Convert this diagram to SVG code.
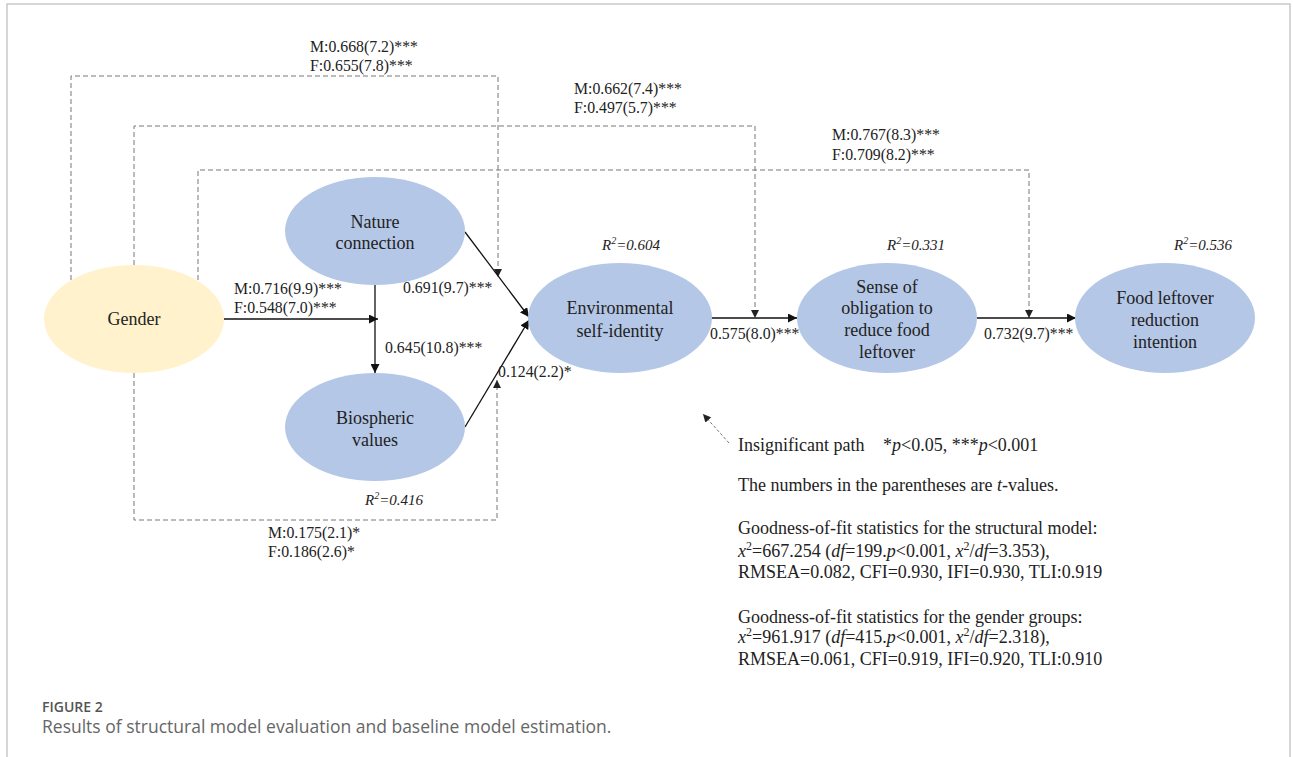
<svg xmlns="http://www.w3.org/2000/svg" width="1293" height="757" viewBox="0 0 1293 757">
<defs>
<style>
.node{fill:#B4C7E7;}
.gnode{fill:#FFF2CC;}
.nt{font-family:"Liberation Serif","Times New Roman",serif;font-size:18px;fill:#222;text-anchor:middle;}
.lb{font-family:"Liberation Serif","Times New Roman",serif;font-size:15.8px;fill:#222;}
.r2{font-family:"Liberation Serif","Times New Roman",serif;font-size:15px;font-style:italic;fill:#222;}
.lg{font-family:"Liberation Serif","Times New Roman",serif;font-size:18px;fill:#222;}
.solid{stroke:#111;stroke-width:1.3;fill:none;marker-end:url(#ah);}
.dash{stroke:#777;stroke-width:1;stroke-dasharray:5 3;fill:none;marker-end:url(#ahd);}
.cap1{font-family:"Open Sans","Noto Sans",sans-serif;font-size:14px;font-weight:600;fill:#555;}
.cap2{font-family:"Open Sans","Noto Sans",sans-serif;font-size:17.5px;fill:#666;}
</style>
<marker id="ah" viewBox="0 0 10 10" refX="10" refY="5" markerWidth="9" markerHeight="9" markerUnits="userSpaceOnUse" orient="auto"><path d="M0,0 L10,5 L0,10 z" fill="#111"/></marker>
<marker id="ahd" viewBox="0 0 10 10" refX="10" refY="5" markerWidth="8" markerHeight="8" markerUnits="userSpaceOnUse" orient="auto"><path d="M0,0 L10,5 L0,10 z" fill="#222"/></marker>
</defs>
<rect x="0" y="0" width="1293" height="757" fill="#fff"/>
<rect x="7" y="4" width="1283" height="800" fill="none" stroke="#bbb" stroke-width="1.2"/>

<g id="connectors">
<path class="dash" d="M71,280 V76 H498 V277"/>
<path class="dash" d="M134,265 V126 H755 V318"/>
<path class="dash" d="M198,280 V170 H1029 V318"/>
<path class="dash" d="M134,373 V520 H497 V380"/>
<line class="solid" x1="224" y1="319" x2="378" y2="319"/>
<line class="solid" x1="375" y1="285" x2="375" y2="373"/>
<line class="solid" x1="465" y1="232" x2="529" y2="317"/>
<line class="solid" x1="465" y1="427" x2="529" y2="320"/>
<line class="solid" x1="712" y1="318" x2="797" y2="318"/>
<line class="solid" x1="977" y1="318" x2="1076" y2="318"/>
</g>

<g id="gender"><ellipse class="gnode" cx="134" cy="319" rx="90" ry="54"/><text class="nt" x="134" y="325">Gender</text></g>
<g id="nature"><ellipse class="node" cx="375" cy="231" rx="90" ry="54"/><text class="nt" x="375" y="228">Nature</text><text class="nt" x="375" y="249">connection</text></g>
<g id="bio"><ellipse class="node" cx="375" cy="427" rx="90" ry="54"/><text class="nt" x="375" y="424">Biospheric</text><text class="nt" x="375" y="446">values</text><text class="r2" x="365" y="505">R<tspan dy="-6" font-size="10">2</tspan><tspan dy="6">=0.416</tspan></text></g>
<g id="env"><ellipse class="node" cx="620" cy="318" rx="92" ry="55"/><text class="nt" x="620" y="314">Environmental</text><text class="nt" x="620" y="337">self-identity</text><text class="r2" x="602" y="250">R<tspan dy="-6" font-size="10">2</tspan><tspan dy="6">=0.604</tspan></text></g>
<g id="sense"><ellipse class="node" cx="887" cy="318" rx="90" ry="55"/><text class="nt" x="887" y="293">Sense of</text><text class="nt" x="887" y="314">obligation to</text><text class="nt" x="887" y="336">reduce food</text><text class="nt" x="887" y="358">leftover</text><text class="r2" x="887" y="250">R<tspan dy="-6" font-size="10">2</tspan><tspan dy="6">=0.331</tspan></text></g>
<g id="food"><ellipse class="node" cx="1165" cy="318" rx="90" ry="55"/><text class="nt" x="1165" y="304">Food leftover</text><text class="nt" x="1165" y="326">reduction</text><text class="nt" x="1165" y="348">intention</text><text class="r2" x="1174" y="250">R<tspan dy="-6" font-size="10">2</tspan><tspan dy="6">=0.536</tspan></text></g>

<g id="edge-labels">
<text class="lb" x="310" y="52">M:0.668(7.2)***</text>
<text class="lb" x="310" y="71">F:0.655(7.8)***</text>
<text class="lb" x="574" y="94">M:0.662(7.4)***</text>
<text class="lb" x="574" y="113">F:0.497(5.7)***</text>
<text class="lb" x="832" y="140">M:0.767(8.3)***</text>
<text class="lb" x="832" y="160">F:0.709(8.2)***</text>
<text class="lb" x="234" y="294">M:0.716(9.9)***</text>
<text class="lb" x="234" y="313">F:0.548(7.0)***</text>
<text class="lb" x="403" y="293">0.691(9.7)***</text>
<text class="lb" x="385" y="353">0.645(10.8)***</text>
<text class="lb" x="498" y="377">0.124(2.2)*</text>
<text class="lb" x="710" y="339">0.575(8.0)***</text>
<text class="lb" x="984" y="339">0.732(9.7)***</text>
<text class="lb" x="268" y="538">M:0.175(2.1)*</text>
<text class="lb" x="268" y="557">F:0.186(2.6)*</text>
</g>

<g id="legend">
<line x1="729" y1="443" x2="703" y2="414" stroke="#777" stroke-width="1" stroke-dasharray="3 2" marker-end="url(#ahd)"/>
<text class="lg" x="738" y="451">Insignificant path <tspan x="883">*<tspan font-style="italic">p</tspan>&lt;0.05, ***<tspan font-style="italic">p</tspan>&lt;0.001</tspan></text>
<text class="lg" x="738" y="491">The numbers in the parentheses are <tspan font-style="italic">t</tspan>-values.</text>
<text class="lg" x="738" y="534">Goodness-of-fit statistics for the structural model:</text>
<text class="lg" x="738" y="557"><tspan font-style="italic">x</tspan><tspan dy="-7" font-size="12">2</tspan><tspan dy="7">=667.254 (</tspan><tspan font-style="italic">df</tspan>=199.<tspan font-style="italic">p</tspan>&lt;0.001, <tspan font-style="italic">x</tspan><tspan dy="-7" font-size="12">2</tspan><tspan dy="7">/</tspan><tspan font-style="italic">df</tspan>=3.353),</text>
<text class="lg" x="738" y="578">RMSEA=0.082, CFI=0.930, IFI=0.930, TLI:0.919</text>
<text class="lg" x="738" y="623">Goodness-of-fit statistics for the gender groups:</text>
<text class="lg" x="738" y="643"><tspan font-style="italic">x</tspan><tspan dy="-7" font-size="12">2</tspan><tspan dy="7">=961.917  (</tspan><tspan font-style="italic">df</tspan>=415.<tspan font-style="italic">p</tspan>&lt;0.001, <tspan font-style="italic">x</tspan><tspan dy="-7" font-size="12">2</tspan><tspan dy="7">/</tspan><tspan font-style="italic">df</tspan>=2.318),</text>
<text class="lg" x="738" y="665">RMSEA=0.061, CFI=0.919, IFI=0.920, TLI:0.910</text>
</g>

<g id="caption">
<text class="cap1" x="42" y="712">FIGURE 2</text>
<text class="cap2" x="42" y="733">Results of structural model evaluation and baseline model estimation.</text>
</g>
</svg>
